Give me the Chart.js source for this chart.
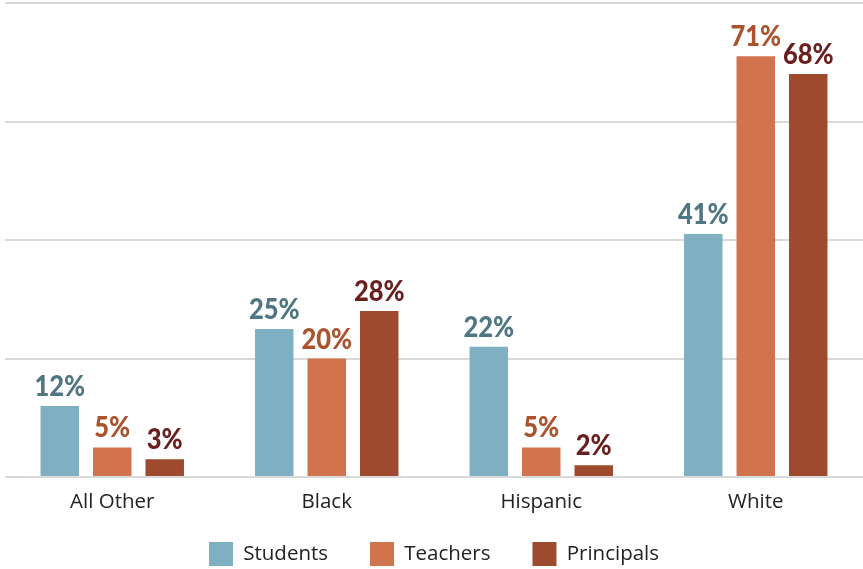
<!DOCTYPE html>
<html>
<head>
<meta charset="utf-8">
<script src="https://cdn.jsdelivr.net/npm/chart.js@4"></script>
<style>
html,body{margin:0;padding:0;background:#fff;}
#wrap{width:863px;height:569px;position:relative;}
</style>
</head>
<body>
<div id="wrap"><canvas id="c" width="863" height="569"></canvas></div>
<script>
const categories = ["All Other", "Black", "Hispanic", "White"];
const students = [12, 25, 22, 41];
const teachers = [5, 20, 5, 71];
const principals = [3, 28, 2, 68];
const seriesNames = ["Students", "Teachers", "Principals"];
const barColors = ["#7FB0C1", "#D1734D", "#9E4A2E"];
const labelColors = ["#4F7681", "#A9532F", "#6A1F1F"];

const labelPlugin = {
  id: 'valueLabels',
  afterDatasetsDraw(chart) {
    const ctx = chart.ctx;
    chart.data.datasets.forEach((ds, di) => {
      const meta = chart.getDatasetMeta(di);
      meta.data.forEach((bar, i) => {
        ctx.save();
        ctx.font = '900 29px Lato';
        ctx.textAlign = 'center';
        ctx.textBaseline = 'alphabetic';
        ctx.fillStyle = labelColors[di];
        ctx.translate(bar.x, bar.y - 10);
        ctx.scale(0.88, 1);
        ctx.fillText(ds.data[i] + '%', 0, 0);
        ctx.restore();
      });
    });
  }
};

new Chart(document.getElementById('c'), {
  type: 'bar',
  data: {
    labels: categories,
    datasets: [
      { label: seriesNames[0], data: students, backgroundColor: barColors[0] },
      { label: seriesNames[1], data: teachers, backgroundColor: barColors[1] },
      { label: seriesNames[2], data: principals, backgroundColor: barColors[2] }
    ]
  },
  options: {
    responsive: false,
    animation: false,
    layout: { padding: { left: 5, right: 0, top: 3, bottom: 0 } },
    datasets: { bar: { barPercentage: 0.733, categoryPercentage: 0.734 } },
    scales: {
      x: {
        grid: { display: false },
        border: { display: false },
        ticks: { color: '#222', font: { family: 'Open Sans', size: 20.5 }, padding: 5 },
        afterFit(scale) { scale.height = 55; }
      },
      y: {
        min: 0, max: 80,
        ticks: { display: false, stepSize: 20 },
        border: { display: false },
        grid: { color: '#D9D9D9', lineWidth: 2, drawTicks: false }
      }
    },
    plugins: {
      legend: {
        position: 'bottom',
        maxHeight: 37,
        labels: {
          boxWidth: 24, boxHeight: 24, padding: 10,
          color: '#222', font: { family: 'Open Sans', size: 20.5 },
          generateLabels(chart) {
            const items = Chart.defaults.plugins.legend.labels.generateLabels(chart);
            items.forEach((it, i) => {
              it.lineWidth = 0;
              if (i < items.length - 1) it.text = it.text + '      ';
            });
            return items;
          }
        }
      },
      tooltip: { enabled: false }
    }
  },
  plugins: [labelPlugin]
});
</script>
</body>
</html>
